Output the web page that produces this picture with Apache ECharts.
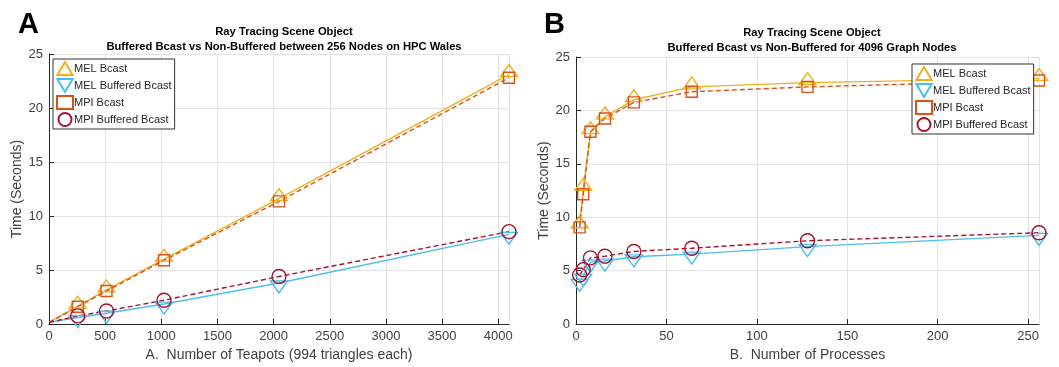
<!DOCTYPE html>
<html><head><meta charset="utf-8">
<script src="https://cdn.jsdelivr.net/npm/echarts@6/dist/echarts.min.js"></script>
<style>html,body{margin:0;padding:0;background:#fff}#c{width:1059px;height:367px}</style>
</head><body><div id="c"></div>
<script>
// ---- Data ----
const seriesNames = ['MEL Bcast', 'MEL Buffered Bcast', 'MPI Bcast', 'MPI Buffered Bcast'];
// Panel A: number of teapots
const teapotsA = [1, 256, 512, 1024, 2048, 4096];
const melBcastA = [0.15, 1.65, 3.15, 6.0, 11.6, 23.1];
const melBufA   = [0.15, 0.6, 1.0, 1.85, 3.8, 8.3];
const mpiBcastA = [0.15, 1.6, 3.05, 5.9, 11.35, 22.8];
const mpiBufA   = [0.15, 0.75, 1.2, 2.2, 4.4, 8.55];
// Panel B: number of processes
const procsB = [2, 4, 8, 16, 32, 64, 128, 256];
const melBcastB = [9.2, 12.7, 18.0, 19.4, 21.0, 22.2, 22.6, 23.0];
const melBufB   = [4.0, 4.5, 5.8, 5.9, 6.3, 6.55, 7.25, 8.3];
const mpiBcastB = [9.05, 12.15, 18.0, 19.25, 20.75, 21.75, 22.2, 22.8];
const mpiBufB   = [4.6, 5.1, 6.2, 6.35, 6.8, 7.1, 7.8, 8.55];
const yTicks = [0, 5, 10, 15, 20, 25];
const xTicksA = [0, 500, 1000, 1500, 2000, 2500, 3000, 3500, 4000];
const xTicksB = [0, 50, 100, 150, 200, 250];

// ---- Styles ----
const colors = ['#EDB120', '#4DBEEE', '#D95319', '#A2142F'];
const UP = 'path://M10,0L20,17L0,17Z';
const DOWN = 'path://M0,0L20,0L10,17Z';
const symbols = [UP, DOWN, 'rect', 'circle'];
const symSizes = [[17, 14], [17, 14], [11, 11], [14, 14]];
const symOffsets = [[0, -4], [0, 4], [0, 0], [0, 0]];
const dashed = [false, false, true, true];
const FONT = 'Liberation Sans, Arial, sans-serif';
const TXT = '#404040';

function mkSeries(xs, ys, idx, axisIdx, noMarkFirst) {
  return {
    name: seriesNames[idx], type: 'line',
    xAxisIndex: axisIdx, yAxisIndex: axisIdx,
    data: xs.map((x, i) => (noMarkFirst && i === 0) ? { value: [x, ys[i]], symbol: 'none' } : [x, ys[i]]),
    symbol: symbols[idx], symbolSize: symSizes[idx], symbolOffset: symOffsets[idx],
    symbolKeepAspect: true, showAllSymbol: true, clip: false,
    itemStyle: { color: 'rgba(255,255,255,0)', borderColor: colors[idx], borderWidth: 1.4 },
    lineStyle: { color: colors[idx], width: 1.4, type: dashed[idx] ? [5, 3] : 'solid' },
    emphasis: { disabled: true }, animation: false, z: 3
  };
}

function mkX(gridIndex, max, interval, name, ticks) {
  return {
    type: 'value', gridIndex, min: 0, max, interval,
    name, nameLocation: 'middle', nameGap: 22,
    nameTextStyle: { fontFamily: FONT, fontSize: 14, color: TXT },
    axisLine: { show: true, onZero: false, lineStyle: { color: '#262626', width: 1 } },
    axisTick: { show: true, inside: true, length: 5, lineStyle: { color: '#262626' } },
    axisLabel: { fontFamily: FONT, fontSize: 13, color: TXT, margin: 6, showMaxLabel: false,
      formatter: v => ticks.includes(v) ? String(v) : '' },
    splitLine: { show: true, lineStyle: { color: '#e3e3e3', width: 1 } }
  };
}
function mkY(gridIndex) {
  return {
    type: 'value', gridIndex, min: 0, max: 25, interval: 5,
    name: 'Time (Seconds)', nameLocation: 'middle', nameGap: 23,
    nameTextStyle: { fontFamily: FONT, fontSize: 14, color: TXT },
    axisLine: { show: true, lineStyle: { color: '#262626', width: 1 } },
    axisTick: { show: true, inside: true, length: 5, lineStyle: { color: '#262626' } },
    axisLabel: { fontFamily: FONT, fontSize: 13, color: TXT, margin: 6,
      formatter: v => yTicks.includes(v) ? String(v) : '' },
    splitLine: { show: true, lineStyle: { color: '#e3e3e3', width: 1 } }
  };
}
function mkLegend(left, top) {
  return {
    left, top, orient: 'vertical', itemGap: 2, itemWidth: 16, itemHeight: 13,
    padding: [2, 3, 2, 3], borderColor: '#333', borderWidth: 1, backgroundColor: '#fff',
    borderRadius: 0, selectedMode: false,
    textStyle: { fontFamily: FONT, fontSize: 11, color: '#262626', padding: [0, 0, 0, -4] },
    data: seriesNames.map((n, i) => ({ name: n, icon: symbols[i] }))
  };
}

const titleStyle = { fontFamily: FONT, fontSize: 11.2, fontWeight: 'bold', color: '#000', lineHeight: 14.5 };
const letterStyle = { fontFamily: 'Liberation Sans, Arial, sans-serif', fontSize: 29, fontWeight: 'bold', color: '#000' };
const option = {
  animation: false,
  title: [
    { text: 'Ray Tracing Scene Object\nBuffered Bcast vs Non-Buffered between 256 Nodes on HPC Wales',
      left: 279, top: 20, textAlign: 'center', textStyle: titleStyle },
    { text: 'Ray Tracing Scene Object\nBuffered Bcast vs Non-Buffered for 4096 Graph Nodes',
      left: 807, top: 21, textAlign: 'center', textStyle: titleStyle },
    { text: 'A', left: 13, top: 5, textStyle: letterStyle },
    { text: 'B', left: 539, top: 5, textStyle: letterStyle }
  ],
  grid: [
    { left: 49, top: 54, width: 460, height: 270 },
    { left: 576, top: 57, width: 463, height: 270 }
  ],
  xAxis: [
    mkX(0, 4096, 500, 'A.  Number of Teapots (994 triangles each)', xTicksA),
    mkX(1, 256, 50, 'B.  Number of Processes', xTicksB)
  ],
  yAxis: [mkY(0), mkY(1)],
  legend: [mkLegend(53, 59), mkLegend(912, 64)],
  series: [
    mkSeries(teapotsA, melBcastA, 0, 0, true),
    mkSeries(teapotsA, melBufA, 1, 0, true),
    mkSeries(teapotsA, mpiBcastA, 2, 0, true),
    mkSeries(teapotsA, mpiBufA, 3, 0, true),
    mkSeries(procsB, melBcastB, 0, 1, false),
    mkSeries(procsB, melBufB, 1, 1, false),
    mkSeries(procsB, mpiBcastB, 2, 1, false),
    mkSeries(procsB, mpiBufB, 3, 1, false)
  ]
};
const chart = echarts.init(document.getElementById('c'), null, { renderer: 'canvas' });
chart.setOption(option);
</script></body></html>
